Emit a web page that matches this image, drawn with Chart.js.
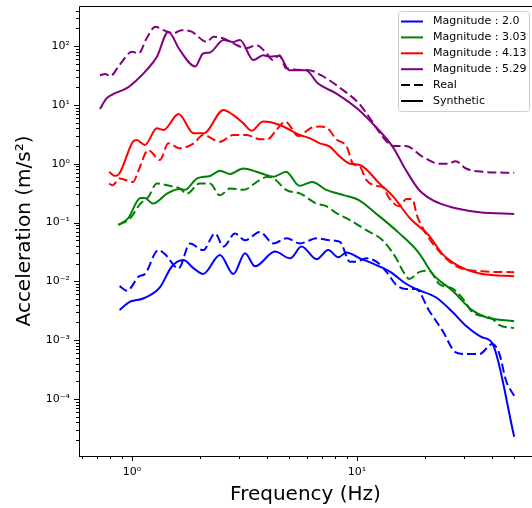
<!DOCTYPE html>
<html>
<head>
<meta charset="utf-8">
<script src="https://cdn.jsdelivr.net/npm/chart.js@4.4.1/dist/chart.umd.min.js"></script>
<style>
  html, body { margin: 0; padding: 0; background: #fff; }
  canvas { display: block; }
</style>
</head>
<body>
<canvas id="spectra" width="532" height="508"></canvas>
<script>
// Magnitude 2.0
const m20RealHz = [0.88, 0.95, 1.07, 1.14, 1.31, 1.40, 1.61, 1.81, 2.07, 2.34, 2.55, 2.87, 3.18, 3.70, 4.25, 4.87, 5.57, 6.62, 7.58, 8.40, 9.30, 9.90, 11.0, 12.2, 13.5, 15.0, 16.5, 18.3, 20.9, 24.0, 27.5, 30.5, 35.0, 40.0, 43.0, 46.0, 50.0];
const m20RealAcc = [0.0083, 0.0069, 0.012, 0.0133, 0.034, 0.029, 0.0166, 0.044, 0.034, 0.065, 0.039, 0.065, 0.050, 0.069, 0.044, 0.054, 0.044, 0.054, 0.050, 0.047, 0.0216, 0.0216, 0.0246, 0.0216, 0.0146, 0.0086, 0.0074, 0.0074, 0.0032, 0.00145, 0.00062, 0.00058, 0.00058, 0.00086, 0.00058, 0.000204, 0.000113];
const m20SynHz = [0.88, 0.98, 1.12, 1.33, 1.50, 1.69, 1.88, 2.07, 2.46, 2.82, 3.18, 3.52, 4.32, 5.05, 5.67, 6.62, 7.45, 8.26, 8.98, 10.3, 12.2, 14.0, 16.6, 18.3, 22.5, 26.6, 30.5, 36.0, 40.0, 50.0];
const m20SynAcc = [0.00325, 0.0045, 0.0051, 0.0079, 0.0177, 0.023, 0.0166, 0.0133, 0.028, 0.0133, 0.030, 0.018, 0.032, 0.0246, 0.039, 0.0237, 0.034, 0.0256, 0.031, 0.0246, 0.0189, 0.0146, 0.0090, 0.0074, 0.0053, 0.0030, 0.00176, 0.00112, 0.00088, 0.0000228];

// Magnitude 3.03
const m303RealHz = [0.87, 0.98, 1.09, 1.18, 1.29, 1.43, 1.63, 1.75, 2.00, 2.22, 2.46, 2.73, 3.12, 3.70, 4.00, 4.30, 4.84, 5.60, 6.60, 7.30, 8.10, 9.30, 11.0, 13.0, 15.0, 16.0, 17.1, 19.0, 20.9, 23.2, 26.6, 29.3, 32.6, 40.0, 43.0, 50.0];
const m303RealAcc = [0.091, 0.118, 0.21, 0.27, 0.46, 0.43, 0.38, 0.31, 0.46, 0.46, 0.29, 0.38, 0.36, 0.53, 0.60, 0.55, 0.36, 0.31, 0.21, 0.19, 0.145, 0.11, 0.074, 0.050, 0.024, 0.015, 0.011, 0.0145, 0.0152, 0.0090, 0.0075, 0.0053, 0.0030, 0.0023, 0.0018, 0.0016];
const m303SynHz = [0.87, 0.96, 1.09, 1.14, 1.24, 1.43, 1.63, 1.72, 1.94, 2.22, 2.46, 2.73, 3.12, 3.58, 3.97, 4.25, 4.84, 5.55, 6.32, 7.30, 8.80, 10.2, 12.1, 15.4, 18.9, 21.7, 26.6, 32.6, 37.5, 50.0];
const m303SynAcc = [0.091, 0.118, 0.26, 0.26, 0.21, 0.31, 0.37, 0.36, 0.56, 0.62, 0.76, 0.67, 0.83, 0.73, 0.64, 0.60, 0.73, 0.42, 0.49, 0.36, 0.29, 0.24, 0.144, 0.066, 0.030, 0.0133, 0.0069, 0.0032, 0.00245, 0.0021];

// Magnitude 4.13
const m413RealHz = [0.79, 0.82, 0.88, 1.01, 1.07, 1.18, 1.33, 1.45, 1.63, 1.88, 2.07, 2.46, 2.82, 3.23, 3.70, 4.00, 4.40, 4.80, 5.50, 6.20, 6.80, 7.40, 8.10, 9.00, 9.60, 10.3, 11.0, 12.2, 13.0, 14.0, 15.4, 16.6, 17.6, 18.5, 20.2, 24.0, 28.3, 36.0, 50.0];
const m413RealAcc = [0.46, 0.43, 0.56, 0.49, 0.78, 1.71, 1.16, 2.22, 1.83, 2.22, 3.08, 2.37, 3.08, 3.08, 2.60, 2.60, 3.80, 5.20, 2.95, 4.00, 4.30, 4.00, 2.60, 1.95, 1.00, 0.89, 0.53, 0.42, 0.40, 0.25, 0.19, 0.25, 0.25, 0.13, 0.066, 0.028, 0.0173, 0.0148, 0.0143];
const m413SynHz = [0.79, 0.84, 0.88, 1.01, 1.05, 1.14, 1.29, 1.38, 1.61, 1.88, 2.08, 2.55, 2.82, 3.12, 3.40, 3.83, 4.54, 5.57, 6.20, 6.84, 7.58, 8.26, 9.30, 10.3, 12.6, 14.5, 17.2, 20.9, 24.0, 26.6, 30.5, 36.0, 50.0];
const m413SynAcc = [0.73, 0.62, 0.69, 2.37, 2.53, 2.08, 4.00, 3.74, 7.00, 3.29, 3.29, 8.20, 6.70, 4.90, 3.64, 5.20, 4.55, 3.08, 2.70, 2.22, 1.95, 1.40, 1.00, 0.95, 0.46, 0.275, 0.118, 0.060, 0.029, 0.021, 0.016, 0.0133, 0.0122];

// Magnitude 5.29
const m529RealHz = [0.72, 0.76, 0.80, 0.88, 1.00, 1.07, 1.16, 1.27, 1.38, 1.53, 1.66, 1.84, 2.15, 2.30, 2.55, 2.82, 3.23, 3.58, 3.97, 4.22, 4.52, 4.84, 6.13, 6.92, 8.65, 10.2, 11.3, 13.4, 14.6, 16.5, 19.6, 23.2, 25.3, 27.5, 30.5, 36.0, 50.0];
const m529RealAcc = [32, 33.5, 31, 48, 80, 75, 135, 214, 187, 165, 187, 176, 118, 144, 135, 111, 92, 104, 75, 58, 70, 42, 39, 32, 18, 10.6, 6.3, 2.5, 2.0, 2.0, 1.31, 1.0, 1.0, 1.1, 0.83, 0.73, 0.70];
const m529SynHz = [0.72, 0.77, 0.81, 0.96, 1.05, 1.16, 1.29, 1.45, 1.63, 1.91, 2.07, 2.22, 2.55, 2.82, 3.02, 3.46, 3.83, 4.10, 4.52, 5.00, 5.93, 6.69, 8.07, 10.2, 12.1, 14.4, 16.5, 18.9, 21.7, 26.6, 35.0, 50.0];
const m529SynAcc = [8.5, 12.9, 14.7, 19.9, 26.5, 39, 66, 176, 86, 45, 75, 78, 127, 118, 127, 58, 70, 66, 68, 39, 39, 23.3, 15.7, 8.2, 4.26, 1.95, 0.78, 0.357, 0.24, 0.18, 0.15, 0.14];

const magnitudes = ['2.0', '3.03', '4.13', '5.29'];
const colors = ['#0000ff', '#008000', '#ff0000', '#800080'];
const xTickExps = [0, 1];
const yTickExps = [-4, -3, -2, -1, 0, 1, 2];

const series = [
    [m20RealHz, m20RealAcc, m20SynHz, m20SynAcc],
    [m303RealHz, m303RealAcc, m303SynHz, m303SynAcc],
    [m413RealHz, m413RealAcc, m413SynHz, m413SynAcc],
    [m529RealHz, m529RealAcc, m529SynHz, m529SynAcc]
];

const DASH = [9, 4];
const SUP = { '-': '\u207B', '0': '\u2070', '1': '\u00B9', '2': '\u00B2', '3': '\u00B3', '4': '\u2074' };
const powLabel = e => '10' + String(e).split('').map(c => SUP[c]).join('');

function toPoints(hz, acc) {
    return hz.map((f, i) => ({ x: f, y: acc[i] }));
}

const datasets = [];
series.forEach(([rHz, rAcc, sHz, sAcc], i) => {
    datasets.push({
        label: 'Real ' + magnitudes[i],
        data: toPoints(rHz, rAcc),
        borderColor: colors[i],
        borderDash: DASH
    });
    datasets.push({
        label: 'Synthetic ' + magnitudes[i],
        data: toPoints(sHz, sAcc),
        borderColor: colors[i]
    });
});

function decadeLabel(exps) {
    return function (value) {
        const e = Math.log10(value);
        const r = Math.round(e);
        if (Math.abs(e - r) < 1e-6 && exps.includes(r)) return powLabel(r);
        return null;
    };
}

// spines + matplotlib style major/minor tick marks
const axesFrame = {
    id: 'axesFrame',
    afterDraw(chart) {
        const { ctx, chartArea: a, scales: { x, y } } = chart;
        ctx.save();
        ctx.strokeStyle = '#000';
        ctx.lineWidth = 1;
        ctx.beginPath();
        ctx.moveTo(a.left + 0.5, a.bottom + 0.5);
        ctx.lineTo(a.left + 0.5, a.top + 0.5);
        ctx.lineTo(a.right + 1, a.top + 0.5);
        ctx.moveTo(a.left, a.bottom + 0.5);
        ctx.lineTo(a.right + 1, a.bottom + 0.5);
        ctx.stroke();

        const marks = (scale, draw) => {
            const lo = Math.floor(Math.log10(scale.min));
            const hi = Math.ceil(Math.log10(scale.max));
            for (let d = lo; d <= hi; d++) {
                for (let k = 1; k <= 9; k++) {
                    const v = k * Math.pow(10, d);
                    if (v < scale.min || v > scale.max) continue;
                    draw(Math.round(scale.getPixelForValue(v)) + 0.5, k === 1 ? 5 : 3);
                }
            }
        };
        ctx.beginPath();
        marks(x, (p, len) => { ctx.moveTo(p, a.bottom); ctx.lineTo(p, a.bottom + len); });
        marks(y, (p, len) => { ctx.moveTo(a.left, p); ctx.lineTo(a.left - len, p); });
        ctx.stroke();
        ctx.restore();
    }
};

// legend box in the upper right corner, drawn like matplotlib's
const legendBox = {
    id: 'legendBox',
    afterDraw(chart) {
        const { ctx, chartArea: a } = chart;
        const w = 131, h = 100;
        const left = a.right - 3 - w, top = a.top + 5;
        ctx.save();
        ctx.beginPath();
        if (ctx.roundRect) ctx.roundRect(left + 0.5, top + 0.5, w, h, 3);
        else ctx.rect(left + 0.5, top + 0.5, w, h);
        ctx.fillStyle = 'rgba(255,255,255,0.8)';
        ctx.fill();
        ctx.strokeStyle = '#cccccc';
        ctx.lineWidth = 1;
        ctx.stroke();

        const rows = magnitudes.map((m, i) => ({ text: 'Magnitude : ' + m, color: colors[i], dash: [] }));
        rows.push({ text: 'Real', color: '#000', dash: DASH });
        rows.push({ text: 'Synthetic', color: '#000', dash: [] });

        ctx.font = '11px "DejaVu Sans"';
        ctx.textBaseline = 'middle';
        ctx.lineWidth = 2;
        rows.forEach((r, i) => {
            const cy = top + 10.5 + i * 15.9;
            ctx.beginPath();
            ctx.setLineDash(r.dash);
            ctx.strokeStyle = r.color;
            ctx.moveTo(left + 3, cy);
            ctx.lineTo(left + 25, cy);
            ctx.stroke();
            ctx.setLineDash([]);
            ctx.fillStyle = '#000';
            ctx.fillText(r.text, left + 35, cy);
        });
        ctx.restore();
    }
};

Chart.defaults.font.family = '"DejaVu Sans", sans-serif';
Chart.defaults.color = '#000';

const ctx = document.getElementById('spectra').getContext('2d');
const spectraChart = new Chart(ctx, {
    type: 'line',
    data: { datasets },
    options: {
        responsive: false,
        animation: false,
        devicePixelRatio: 1,
        layout: { padding: { top: 6, right: 0, bottom: 0, left: 0 } },
        elements: {
            line: { borderWidth: 2, cubicInterpolationMode: 'monotone', borderCapStyle: 'butt', borderJoinStyle: 'round', fill: false },
            point: { radius: 0, hoverRadius: 0 }
        },
        plugins: {
            legend: { display: false },
            tooltip: { enabled: false }
        },
        scales: {
            x: {
                type: 'logarithmic',
                min: 0.581,
                max: 60,
                grid: { display: false, drawTicks: false },
                border: { display: false },
                ticks: { autoSkip: false, maxRotation: 0, padding: 10, font: { size: 11 }, callback: decadeLabel(xTickExps) },
                title: { display: true, text: 'Frequency (Hz)', font: { size: 20 }, color: '#000', padding: { top: 0, bottom: 1 } },
                afterFit(scale) {
                    scale.height = 52;
                    scale.paddingLeft = 0;
                    scale.paddingRight = 0;
                }
            },
            y: {
                type: 'logarithmic',
                min: 1.07e-5,
                max: 481,
                grid: { display: false, drawTicks: false },
                border: { display: false },
                ticks: { autoSkip: false, padding: 9, font: { size: 11 }, callback: decadeLabel(yTickExps) },
                title: { display: true, text: 'Acceleration (m/s\u00B2)', font: { size: 20 }, color: '#000', padding: { top: 13, bottom: 0 } },
                afterFit(scale) {
                    scale.width = 79;
                    scale.paddingTop = 0;
                    scale.paddingBottom = 0;
                }
            }
        }
    },
    plugins: [axesFrame, legendBox]
});
</script>
</body>
</html>
